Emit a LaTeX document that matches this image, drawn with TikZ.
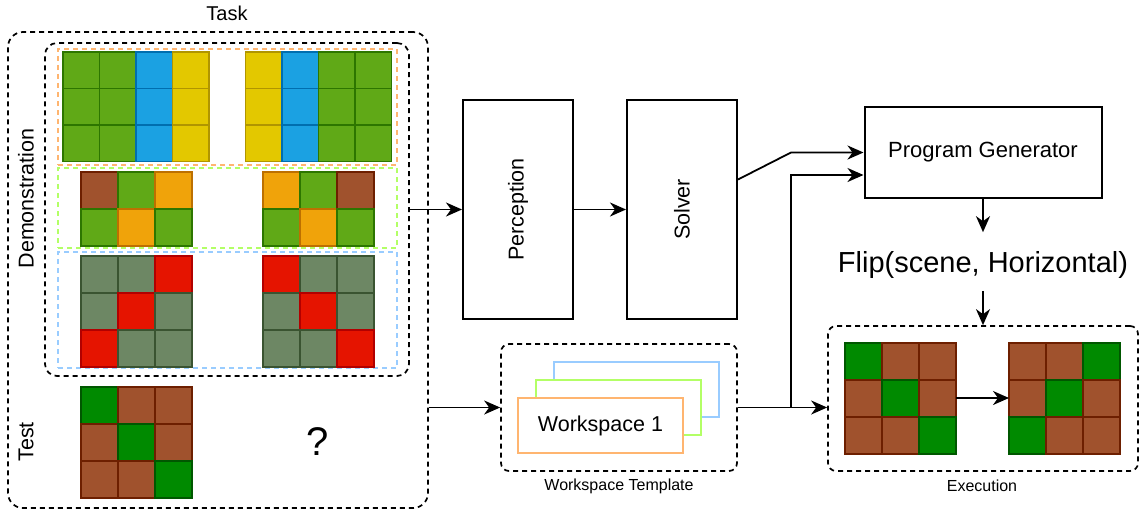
\documentclass[tikz,border=0pt]{standalone}
\usepackage{fontspec}
\setmainfont{Liberation Sans}
\usetikzlibrary{arrows.meta,calc}
\definecolor{gF}{HTML}{60A917}\definecolor{gS}{HTML}{2D7600}
\definecolor{bF}{HTML}{1BA1E2}\definecolor{bS}{HTML}{006EAF}
\definecolor{yF}{HTML}{E3C800}\definecolor{yS}{HTML}{B09500}
\definecolor{oF}{HTML}{F0A30A}\definecolor{oS}{HTML}{BD7000}
\definecolor{nF}{HTML}{A0522D}\definecolor{nS}{HTML}{6D1F00}
\definecolor{aF}{HTML}{6D8764}\definecolor{aS}{HTML}{3A5431}
\definecolor{rF}{HTML}{E51400}\definecolor{rS}{HTML}{B20000}
\definecolor{dF}{HTML}{008A00}\definecolor{dS}{HTML}{005700}
\definecolor{lOr}{HTML}{FFB570}
\definecolor{lGr}{HTML}{B3FF66}
\definecolor{lBl}{HTML}{99CCFF}
\newcommand\fsz[1]{\fontsize{#1}{#1}\selectfont}
\newcommand\drawgrid[5]{%
  \foreach \c [count=\i from 0] in {#5} {
    \pgfmathsetmacro\gx{#1+mod(\i,#3)*#4}
    \pgfmathsetmacro\gy{#2+int(\i/#3)*#4}
    \path[cell\c] (\gx,\gy) rectangle ++(#4,#4);
  }}
\tikzset{
  cellG/.style={fill=gF,draw=gS},
  cellB/.style={fill=bF,draw=bS},
  cellY/.style={fill=yF,draw=yS},
  cellO/.style={fill=oF,draw=oS},
  cellN/.style={fill=nF,draw=nS},
  cellA/.style={fill=aF,draw=aS},
  cellR/.style={fill=rF,draw=rS},
  cellD/.style={fill=dF,draw=dS},
  blk/.style={draw=black,line width=1.7pt,dash pattern=on 5pt off 4pt},
  cdash/.style={line width=1.7pt,dash pattern=on 5pt off 4pt},
  procbox/.style={draw=black,line width=2pt,minimum width=110pt,minimum height=219pt,inner sep=0pt},
  wsbox/.style={draw,line width=1.8pt,fill=white,minimum width=165pt,minimum height=55pt,inner sep=0pt},
  arr/.style={line width=1.8pt,-{Stealth[length=16pt,width=14pt,inset=5pt]}},
  lbl/.style={inner sep=0pt},
}
\begin{document}
\begin{tikzpicture}[x=1pt,y=-1pt,line width=1.6pt]
\useasboundingbox (0,0) rectangle (1143,514);
% Task area
\node[lbl,font=\fsz{20}] (tasklbl) at (227,13.3) {Task};
\node[blk,rounded corners=15pt,minimum width=420pt,minimum height=476pt,inner sep=0pt] (task) at (218,270) {};
\node[blk,rounded corners=12pt,minimum width=364pt,minimum height=333pt,inner sep=0pt] (demo) at (227,209.5) {};
\node[cdash,draw=lOr,minimum width=339pt,minimum height=116pt,inner sep=0pt] (d1) at (227.5,107) {};
\node[cdash,draw=lGr,minimum width=339pt,minimum height=80pt,inner sep=0pt] (d2) at (227.5,208) {};
\node[cdash,draw=lBl,minimum width=339pt,minimum height=116pt,inner sep=0pt] (d3) at (227.5,310) {};
\node[lbl,rotate=90,font=\fsz{21.5}] (demolbl) at (26,198.5) {Demonstration};
\node[lbl,rotate=90,font=\fsz{21.5}] (testlbl) at (26,442) {Test};
\node[lbl,font=\fsz{40}] (qm) at (318,442) {?};
% grids
\drawgrid{63}{52}{4}{36.5}{G,G,B,Y,G,G,B,Y,G,G,B,Y}
\drawgrid{245.5}{52}{4}{36.5}{Y,B,G,G,Y,B,G,G,Y,B,G,G}
\drawgrid{81}{172}{3}{37}{N,G,O,G,O,G}
\drawgrid{263}{172}{3}{37}{O,G,N,G,O,G}
\drawgrid{81}{256}{3}{37}{A,A,R,A,R,A,R,A,A}
\drawgrid{263}{256}{3}{37}{R,A,A,A,R,A,A,A,R}
\drawgrid{81}{387}{3}{37}{D,N,N,N,D,N,N,N,D}
% Perception / Solver
\node[procbox] (perc) at (518,209.5) {};
\node[lbl,rotate=90,font=\fsz{21.5}] at (perc.center) {Perception};
\node[procbox] (solv) at (682,209.5) {};
\node[lbl,rotate=90,font=\fsz{21.5}] at (solv.center) {Solver};
% Program generator
\node[draw=black,line width=2pt,minimum width=237pt,minimum height=91pt,inner sep=0pt,font=\fsz{22}] (pg) at (983,152.5) {Program Generator};
\node[lbl,font=\fsz{29}] (flip) at (983,264.5) {Flip(scene, Horizontal)};
% Workspace template
\node[blk,rounded corners=8pt,minimum width=236pt,minimum height=127pt,inner sep=0pt] (ws) at (619,407.5) {};
\node[wsbox,draw=lBl] (ws3) at (636.5,389.5) {};
\node[wsbox,draw=lGr] (ws2) at (618.5,407.5) {};
\node[wsbox,draw=lOr,font=\fsz{21.5}] (ws1) at (600.5,425.5) {Workspace 1};
\node[lbl,font=\fsz{16}] (wslbl) at (619,486.5) {Workspace Template};
% Execution
\node[blk,rounded corners=8pt,minimum width=310pt,minimum height=145pt,inner sep=0pt] (exec) at (983,398.5) {};
\drawgrid{845}{343}{3}{37}{D,N,N,N,D,N,N,N,D}
\drawgrid{1009}{343}{3}{37}{N,N,D,N,D,N,D,N,N}
\node[lbl,font=\fsz{16}] (execlbl) at (982,486) {Execution};
\coordinate (eg1) at (956,398);
\coordinate (eg2) at (1009,398);
% connectors
\coordinate (j1) at (791,152.5);
\coordinate (j2) at (791,407.5);
\draw[arr] (demo.east) -- (perc.west);
\draw[arr] (perc.east) -- (solv.west);
\draw[arr] ([yshift=30pt]solv.east) -- (j1) -- (pg.west);
\draw[arr] (j2) |- ([yshift=-22.5pt]pg.west);
\draw[arr] (task.east |- ws.west) -- (ws.west);
\draw[arr] (ws.east) -- (exec.west |- ws.east);
\draw[arr] (pg.south) -- ([yshift=18pt]flip.north);
\draw[arr] ([yshift=-12pt]flip.south) -- (exec.north);
\draw[arr] (eg1) -- (eg2);
\end{tikzpicture}
\end{document}
